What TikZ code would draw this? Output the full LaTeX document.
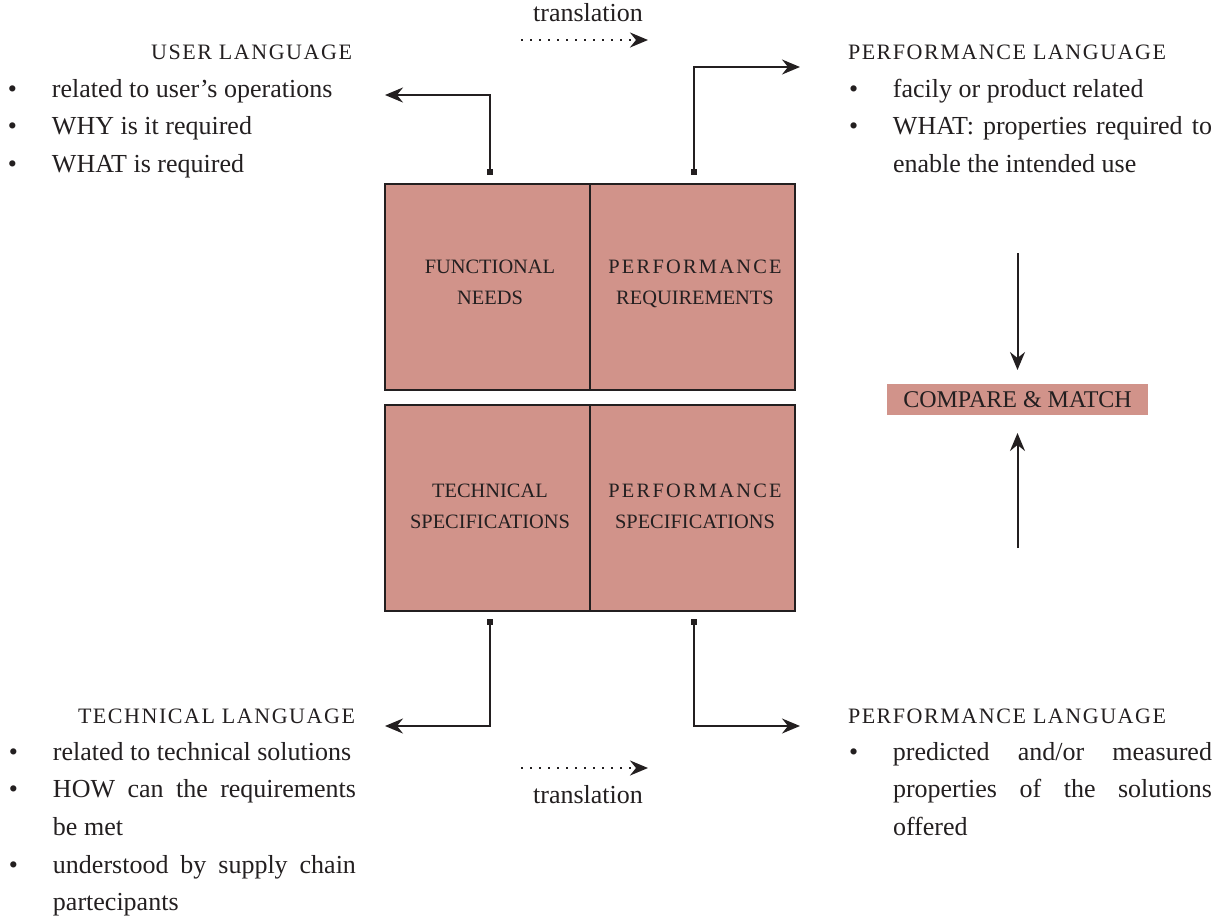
\documentclass[tikz,border=0pt]{standalone}
\usepackage{fontspec}
\setmainfont{Liberation Serif}
\newfontfamily\headfont[LetterSpace=7]{Liberation Serif}
\newfontfamily\spacedfont[LetterSpace=11]{Liberation Serif}
\usetikzlibrary{arrows.meta}
\definecolor{boxfill}{RGB}{209,147,138}
\definecolor{ink}{RGB}{35,31,32}
\newcommand{\bulx}{\makebox[22pt][l]{•}}
\begin{document}
\begin{tikzpicture}[x=0.5pt,y=-0.5pt,
  every node/.style={inner sep=0pt, outer sep=0pt, text=ink},
  body/.style={font=\fontsize{13}{15}\selectfont, anchor=base west},
  head/.style={font=\headfont\fontsize{11}{13}\selectfont},
  cell/.style={draw=ink, line width=1pt, fill=boxfill, minimum width=102.5pt, minimum height=103pt},
  celltext/.style={font=\fontsize{10.2}{12}\selectfont, anchor=base},
  tipstyle/.style={-{Stealth[length=9pt,width=7.5pt,inset=3pt]}},
  conn/.style={draw=ink, line width=1pt, tipstyle},
  tick/.style={fill=ink, minimum size=2.8pt},
  dotarrow/.style={draw=ink, line width=1.3pt, dash pattern=on 1.2pt off 3.3pt, tipstyle},
]
\useasboundingbox (0,0) rectangle (1212,917);

% central boxes
\node[cell] (fn) at (487.5,287) {};
\node[cell] (pr) at (692.5,287) {};
\node[cell] (ts) at (487.5,507.5) {};
\node[cell] (ps) at (692.5,507.5) {};

\node[celltext] (fn1) at (490,273.5) {FUNCTIONAL};
\node[celltext] (fn2) at (490,304.5) {NEEDS};
\node[celltext] (pr1) at (695,273.5) {\spacedfont PERFORMANCE};
\node[celltext] (pr2) at (695,304.5) {REQUIREMENTS};
\node[celltext] (ts1) at (490,497.5) {TECHNICAL};
\node[celltext] (ts2) at (490,528.5) {SPECIFICATIONS};
\node[celltext] (ps1) at (695,497.5) {\spacedfont PERFORMANCE};
\node[celltext] (ps2) at (695,528.5) {SPECIFICATIONS};

% connectors from boxes
\node[tick] (t1) at (490,172) {};
\node[tick] (t2) at (694,172) {};
\node[tick] (t3) at (490,622) {};
\node[tick] (t4) at (694,622) {};
\coordinate (e1) at (385,95);
\coordinate (e2) at (800,67);
\coordinate (e3) at (385,726);
\coordinate (e4) at (800,726);
\draw[conn] (t1.center) |- (e1);
\draw[conn] (t2.center) |- (e2);
\draw[conn] (t3.center) |- (e3);
\draw[conn] (t4.center) |- (e4);

% translation arrows
\coordinate (d1s) at (521,40);
\coordinate (d1e) at (648,40);
\coordinate (d2s) at (521,768);
\coordinate (d2e) at (648,768);
\draw[dotarrow] (d1s) -- (d1e);
\draw[dotarrow] (d2s) -- (d2e);
\node[body, anchor=base] (tr1) at (588,21) {translation};
\node[body, anchor=base] (tr2) at (588,803) {translation};

% compare & match
\node[fill=boxfill, minimum width=130.5pt, minimum height=15.5pt,
      font=\fontsize{12}{14}\selectfont] (cm) at (1017.5,399.5) {COMPARE \& MATCH};
\coordinate (ca) at (1017.5,253);
\coordinate (cb) at (1017.5,548);
\draw[conn, shorten >=7pt] (ca) -- (cm.north);
\draw[conn, shorten >=9pt] (cb) -- (cm.south);

% top-left block
\node[head, anchor=base east] (ul) at (352,59) {USER LANGUAGE};
\node[body] (ul1) at (8,97) {\bulx related to user's operations};
\node[body] (ul2) at (8,134) {\bulx WHY is it required};
\node[body] (ul3) at (8,172) {\bulx WHAT is required};

% top-right block
\node[head, anchor=base west] (pl) at (848,59) {PERFORMANCE LANGUAGE};
\node[body] (pl1) at (849,97) {\bulx facily or product related};
\node[body] (pl2) at (849,134) {\bulx\makebox[159.5pt][s]{WHAT: properties required to}};
\node[body] (pl3) at (893,172) {enable the intended use};

% bottom-left block
\node[head, anchor=base east] (tl) at (355,723) {TECHNICAL LANGUAGE};
\node[body] (tl1) at (9,760) {\bulx related to technical solutions};
\node[body] (tl2) at (9,797) {\bulx\makebox[151.5pt][s]{HOW can the requirements}};
\node[body] (tl3) at (53,835) {be met};
\node[body] (tl4) at (9,873) {\bulx\makebox[151.5pt][s]{understood by supply chain}};
\node[body] (tl5) at (53,910) {partecipants};

% bottom-right block
\node[head, anchor=base west] (pb) at (848,723) {PERFORMANCE LANGUAGE};
\node[body] (pb1) at (849,760) {\bulx\makebox[159.5pt][s]{predicted and/or measured}};
\node[body] (pb2) at (893,797) {\makebox[159.5pt][s]{properties of the solutions}};
\node[body] (pb3) at (893,835) {offered};
\end{tikzpicture}
\end{document}
